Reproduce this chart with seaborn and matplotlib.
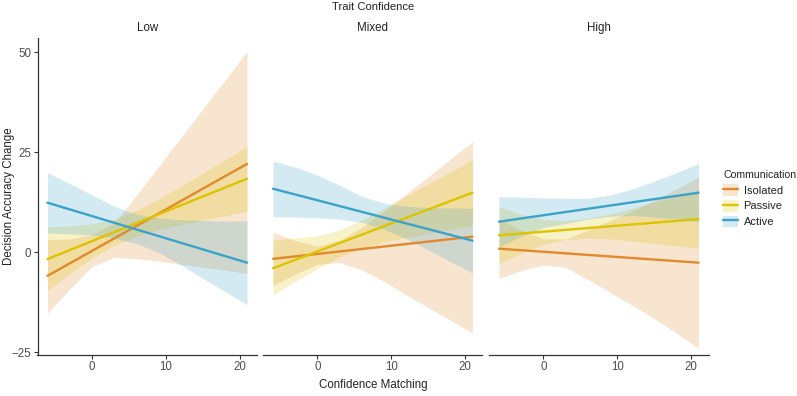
import matplotlib
matplotlib.use("Agg")
import matplotlib.pyplot as plt
import pandas as pd
import seaborn as sns
from matplotlib.lines import Line2D
from matplotlib.patches import Patch

sns.set_style("ticks")
plt.rcParams['font.family'] = ['Liberation Sans', 'DejaVu Sans']

# facets / groups
PANELS = ["Low", "Mixed", "High"]
GROUPS = ["Isolated", "Passive", "Active"]
PALETTE = {"Isolated": "#E2892C", "Passive": "#DCC400", "Active": "#3BA3C9"}

# x where the fitted lines start / end, and where the ribbons were read
LINE_X = [-6, 21]
BAND_X = [-6, -3, 0, 3, 6, 9, 12, 15, 18, 21]

# fitted lines (value at x=-6 and x=21)
low_isolated = [-5.9, 22.1]
low_passive = [-1.7, 18.4]
low_active = [12.4, -2.6]
mixed_isolated = [-1.65, 3.9]
mixed_passive = [-4.0, 14.9]
mixed_active = [15.9, 2.9]
high_isolated = [0.9, -2.6]
high_passive = [4.25, 8.3]
high_active = [7.65, 14.9]

# confidence ribbons, lower / upper edge at BAND_X
low_isolated_lo = [-15.3, -9.2, -3.6, -1.3, -1.6, -2.2, -3.0, -3.7, -4.5, -5.3]
low_isolated_hi = [3.2, 3.3, 4.4, 7.3, 14.2, 21.4, 28.6, 35.8, 43.0, 50.3]
low_passive_lo = [-9.65, -5.4, -1.5, 1.7, 4.0, 5.7, 6.9, 8.0, 9.1, 10.25]
low_passive_hi = [6.35, 6.6, 7.1, 8.3, 10.4, 13.3, 16.5, 19.8, 23.1, 26.45]
low_active_lo = [4.8, 4.6, 4.3, 3.5, 2.2, 0.0, -3.1, -6.5, -9.8, -13.1]
low_active_hi = [19.9, 17.2, 14.4, 11.5, 9.5, 8.6, 8.1, 7.9, 7.8, 7.85]

mixed_isolated_lo = [-8.3, -5.5, -3.0, -2.6, -4.4, -7.3, -10.6, -13.8, -17.0, -20.2]
mixed_isolated_hi = [5.0, 2.9, 1.5, 3.0, 6.2, 10.2, 14.6, 18.9, 23.3, 27.65]
mixed_passive_lo = [-10.65, -7.3, -4.1, -1.2, 1.0, 2.6, 3.7, 4.7, 5.7, 6.6]
mixed_passive_hi = [3.0, 3.6, 4.1, 5.5, 8.0, 11.0, 14.0, 17.1, 20.1, 23.2]
mixed_active_lo = [8.9, 8.8, 8.6, 8.3, 7.5, 5.8, 3.4, 0.6, -2.3, -5.2]
mixed_active_hi = [22.85, 21.3, 19.3, 16.8, 14.0, 12.3, 11.5, 11.2, 11.1, 11.0]

high_isolated_lo = [-6.5, -4.6, -3.2, -3.8, -6.8, -10.0, -13.2, -16.6, -20.2, -24.0]
high_isolated_hi = [8.3, 5.6, 3.4, 3.3, 5.5, 7.9, 10.3, 13.0, 15.8, 18.8]
high_passive_lo = [-2.9, -0.3, 2.0, 3.2, 3.5, 3.3, 2.8, 2.2, 1.6, 1.0]
high_passive_hi = [11.4, 9.5, 8.2, 7.9, 8.5, 9.6, 11.0, 12.5, 14.0, 15.6]
high_active_lo = [1.4, 4.0, 6.2, 7.2, 8.3, 9.0, 9.2, 8.8, 8.3, 7.6]
high_active_hi = [13.9, 13.8, 13.6, 13.5, 13.5, 14.3, 15.8, 17.8, 19.9, 22.2]

Y_TICKS = [-25, 0, 25, 50]
X_TICKS = [0, 10, 20]

LINES = {
    ("Low", "Isolated"): low_isolated, ("Low", "Passive"): low_passive, ("Low", "Active"): low_active,
    ("Mixed", "Isolated"): mixed_isolated, ("Mixed", "Passive"): mixed_passive, ("Mixed", "Active"): mixed_active,
    ("High", "Isolated"): high_isolated, ("High", "Passive"): high_passive, ("High", "Active"): high_active,
}
BANDS = {
    ("Low", "Isolated"): (low_isolated_lo, low_isolated_hi),
    ("Low", "Passive"): (low_passive_lo, low_passive_hi),
    ("Low", "Active"): (low_active_lo, low_active_hi),
    ("Mixed", "Isolated"): (mixed_isolated_lo, mixed_isolated_hi),
    ("Mixed", "Passive"): (mixed_passive_lo, mixed_passive_hi),
    ("Mixed", "Active"): (mixed_active_lo, mixed_active_hi),
    ("High", "Isolated"): (high_isolated_lo, high_isolated_hi),
    ("High", "Passive"): (high_passive_lo, high_passive_hi),
    ("High", "Active"): (high_active_lo, high_active_hi),
}

rows = []
for (panel, group), ys in LINES.items():
    for x, y in zip(LINE_X, ys):
        rows.append((panel, group, x, y))
lines_df = pd.DataFrame(rows, columns=["Trait", "Communication", "x", "y"])

W, H = 797, 396
fig = plt.figure(figsize=(W / 100, H / 100), dpi=100)

panel_left = [37.5, 263, 489]
panel_w = 219.5
top_px, bottom_px = 38, 355
AXIS_COL = "#333333"
TEXT_COL = "#222222"

for i, panel in enumerate(PANELS):
    ax = fig.add_axes([panel_left[i] / W, 1 - bottom_px / H,
                       panel_w / W, (bottom_px - top_px) / H])
    for group in GROUPS:
        lo, hi = BANDS[(panel, group)]
        ax.fill_between(BAND_X, lo, hi, color=PALETTE[group], alpha=0.22,
                        linewidth=0, zorder=1)
    sns.lineplot(data=lines_df[lines_df["Trait"] == panel], x="x", y="y",
                 hue="Communication", hue_order=GROUPS, palette=PALETTE,
                 linewidth=1.7, legend=False, ax=ax, zorder=3)
    ax.set_xlim(-7.35, 22.35)
    ax.set_ylim(-25.7, 53.6)
    ax.set_xticks(X_TICKS)
    ax.set_yticks(Y_TICKS)
    ax.set_xlabel("")
    ax.set_ylabel("")
    ax.tick_params(colors=AXIS_COL, labelcolor="#4D4D4D", labelsize=8.3,
                   length=3, width=0.8, pad=1.5)
    for s in ax.spines.values():
        s.set_color(AXIS_COL)
        s.set_linewidth(0.9)
    if i == 0:
        sns.despine(ax=ax)
    else:
        sns.despine(ax=ax, left=True)
        ax.tick_params(left=False, labelleft=False)
    ax.text(0.5, 1.03, panel, transform=ax.transAxes, ha="center",
            va="center", fontsize=8.3, color=TEXT_COL)

mid_x = (panel_left[0] + panel_left[2] + panel_w) / 2 / W
fig.text(mid_x, 1 - 7 / H, "Trait Confidence", ha="center", va="center",
         fontsize=8.1, color=TEXT_COL)
fig.text(mid_x, 1 - 385 / H, "Confidence Matching", ha="center", va="center",
         fontsize=8.3, color=TEXT_COL)
fig.text(9 / W, 1 - (top_px + bottom_px) / 2 / H, "Decision Accuracy Change",
         rotation=90, ha="center", va="center", fontsize=8.3, color=TEXT_COL)

handles = [(Patch(facecolor=PALETTE[g], alpha=0.22, linewidth=0),
            Line2D([], [], color=PALETTE[g], linewidth=1.7)) for g in GROUPS]
leg = fig.legend(handles, GROUPS, title="Communication", loc="upper left",
                 bbox_to_anchor=(723 / W, 1 - 170 / H), frameon=False,
                 fontsize=8, title_fontsize=7.6, borderpad=0, borderaxespad=0,
                 handlelength=1.35, handleheight=1.25, handletextpad=0.5,
                 labelspacing=0.36, alignment="left", labelcolor=TEXT_COL)
leg.get_title().set_color(TEXT_COL)

fig.savefig("out.png", dpi=100)
